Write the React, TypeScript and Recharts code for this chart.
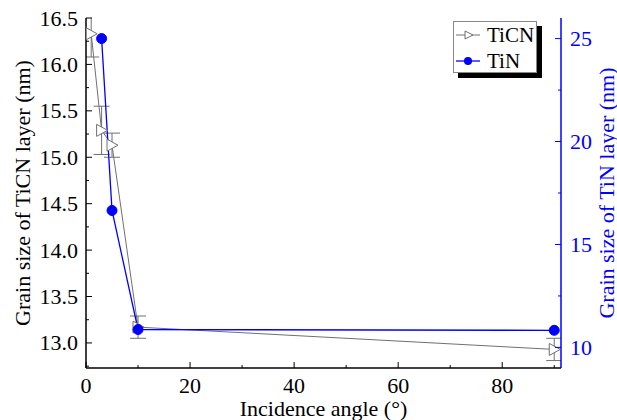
import * as Recharts from "recharts";
import { LineChart, Line, XAxis, YAxis, ErrorBar, Legend } from "recharts";

const angleTicn = [1, 3, 5, 10, 90];
const sizeTicn = [16.33, 15.29, 15.13, 13.17, 12.93];
const errTicn = [0.25, 0.26, 0.13, 0.12, 0.12];

const angleTin = [3, 5, 10, 90];
const sizeTin = [25.0, 16.65, 10.87, 10.83];

const xTicks = [0, 10, 20, 30, 40, 50, 60, 70, 80, 90];
const leftTicks = [12.75, 13, 13.25, 13.5, 13.75, 14, 14.25, 14.5, 14.75, 15, 15.25, 15.5, 15.75, 16, 16.25, 16.5];
const rightTicks = [10, 12.5, 15, 17.5, 20, 22.5, 25];

const ticnData = angleTicn.map((a, i) => ({ angle: a, size: sizeTicn[i], err: errTicn[i] }));
const tinData = angleTin.map((a, i) => ({ angle: a, size: sizeTin[i] }));

const FONT = "'Liberation Serif', 'Times New Roman', serif";
const TICK_FS = 22;
const LABEL_FS = 22;

function LeftTick({ x, y, payload }: any) {
  const v = payload.value;
  const major = Math.abs(v * 2 - Math.round(v * 2)) < 1e-6;
  return (
    <g>
      <line x1={x} x2={x + (major ? 6 : 3)} y1={y} y2={y} stroke="#000" />
      {major && (
        <text x={x - 8} y={y} textAnchor="end" dominantBaseline="central" fontSize={TICK_FS} fill="#000" fontFamily={FONT}>
          {v.toFixed(1)}
        </text>
      )}
    </g>
  );
}

function RightTick({ x, y, payload }: any) {
  const v = payload.value;
  const major = v % 5 === 0;
  return (
    <g>
      <line x1={x} x2={x - (major ? 6 : 3)} y1={y} y2={y} stroke="#0000ff" />
      {major && (
        <text x={x + 9} y={y} textAnchor="start" dominantBaseline="central" fontSize={TICK_FS} fill="#0000ff" fontFamily={FONT}>
          {v}
        </text>
      )}
    </g>
  );
}

function BottomTick({ x, y, payload }: any) {
  const v = payload.value;
  const major = v % 20 === 0;
  return (
    <g>
      <line x1={x} x2={x} y1={y} y2={y - (major ? 6 : 3)} stroke="#000" />
      {major && (
        <text x={x} y={y + 17} textAnchor="middle" dominantBaseline="central" fontSize={TICK_FS} fill="#000" fontFamily={FONT}>
          {v}
        </text>
      )}
    </g>
  );
}

function TriangleDot({ cx, cy }: any) {
  if (cx == null || cy == null) return null;
  return (
    <path
      d={`M${cx - 5},${cy - 6} L${cx + 6},${cy} L${cx - 5},${cy + 6} Z`}
      fill="#fff"
      stroke="#707070"
      strokeWidth={1}
    />
  );
}

function CircleDot({ cx, cy }: any) {
  if (cx == null || cy == null) return null;
  return <circle cx={cx} cy={cy} r={5} fill="#0000ff" stroke="#0000ff" />;
}

function VerticalTitle({ viewBox, value, dx, color }: any) {
  const cx = viewBox.x + dx;
  const cy = viewBox.y + viewBox.height / 2;
  return (
    <text
      x={cx}
      y={cy}
      transform={`rotate(-90, ${cx}, ${cy})`}
      textAnchor="middle"
      dominantBaseline="central"
      fontSize={LABEL_FS}
      fill={color}
      fontFamily={FONT}
    >
      {value}
    </text>
  );
}

function BottomTitle({ viewBox }: any) {
  return (
    <text
      x={viewBox.x + viewBox.width / 2}
      y={viewBox.y + 40}
      textAnchor="middle"
      dominantBaseline="central"
      fontSize={LABEL_FS}
      fill="#000"
      fontFamily={FONT}
    >
      Incidence angle (°)
    </text>
  );
}

// clip error bars to the plot area, like the original
function PlotClip() {
  const hook = (Recharts as any).usePlotArea;
  const area = hook ? hook() : null;
  if (!area) return null;
  return (
    <defs>
      <clipPath id="plot-area-clip">
        <rect x={area.x} y={area.y} width={area.width} height={area.height} />
      </clipPath>
    </defs>
  );
}

function LegendBox() {
  return (
    <div style={{ position: "relative", width: 84, height: 52, fontFamily: FONT, fontSize: 21, color: "#000" }}>
      <div style={{ position: "absolute", left: 5, top: 5, width: 84, height: 52, background: "#000" }} />
      <div
        style={{
          position: "absolute",
          left: 0,
          top: 0,
          width: 82,
          height: 50,
          background: "#fff",
          border: "1px solid #888",
        }}
      >
        <svg width={30} height={50} style={{ position: "absolute", left: 0, top: 0 }}>
          <line x1={2} x2={26} y1={13} y2={13} stroke="#707070" />
          <path d="M11,9 L19,13 L11,17 Z" fill="#fff" stroke="#707070" />
          <line x1={2} x2={26} y1={39} y2={39} stroke="#0000ff" strokeWidth={1.3} />
          <circle cx={14} cy={39} r={4} fill="#0000ff" />
        </svg>
        <div style={{ position: "absolute", left: 33, top: 0, lineHeight: "26px" }}>TiCN</div>
        <div style={{ position: "absolute", left: 33, top: 26, lineHeight: "26px" }}>TiN</div>
      </div>
    </div>
  );
}

export default function App() {
  return (
    <div style={{ position: "absolute", left: 0, top: 0, width: 617, height: 420, background: "#fff" }}>
      <style>{`.recharts-errorBars, .recharts-errorBar { clip-path: url(#plot-area-clip); }`}</style>
      <LineChart
        width={617}
        height={420}
        margin={{ top: 18, right: 0, left: 0, bottom: 0 }}
        style={{ fontFamily: FONT }}
      >
        <PlotClip />
        <XAxis
          xAxisId="top"
          orientation="top"
          type="number"
          dataKey="angle"
          domain={[0, 91.3]}
          height={0}
          tick={false}
          tickLine={false}
          axisLine={{ stroke: "#444", strokeWidth: 1.5 }}
        />
        <XAxis
          dataKey="angle"
          type="number"
          domain={[0, 91.3]}
          ticks={xTicks}
          interval={0}
          height={52}
          tickSize={0}
          tickMargin={0}
          tickLine={false}
          tick={<BottomTick />}
          axisLine={{ stroke: "#000", strokeWidth: 1.5 }}
          label={<BottomTitle />}
          allowDataOverflow
        />
        <YAxis
          yAxisId="left"
          type="number"
          domain={[12.73, 16.5]}
          ticks={leftTicks}
          interval={0}
          width={86}
          tickSize={0}
          tickMargin={0}
          tickLine={false}
          tick={<LeftTick />}
          axisLine={{ stroke: "#000", strokeWidth: 1.5 }}
          label={<VerticalTitle value="Grain size of TiCN layer (nm)" dx={22} color="#000" />}
          allowDataOverflow
        />
        <YAxis
          yAxisId="right"
          orientation="right"
          type="number"
          domain={[9, 26]}
          ticks={rightTicks}
          interval={0}
          width={56}
          tickSize={0}
          tickMargin={0}
          tickLine={false}
          tick={<RightTick />}
          axisLine={{ stroke: "#0000ff", strokeWidth: 1.5 }}
          label={<VerticalTitle value="Grain size of TiN layer (nm)" dx={45} color="#0000ff" />}
          allowDataOverflow
        />
        <Legend
          layout="horizontal"
          verticalAlign="middle"
          align="center"
          content={<LegendBox />}
          wrapperStyle={{ position: "absolute", left: 453, top: 21, width: 90, height: 58 }}
        />
        <Line
          yAxisId="left"
          data={ticnData}
          dataKey="size"
          name="TiCN"
          stroke="#707070"
          strokeWidth={1}
          dot={<TriangleDot />}
          activeDot={false}
          isAnimationActive={false}
        >
          <ErrorBar dataKey="err" width={8} stroke="#707070" strokeWidth={1} direction="y" />
        </Line>
        <Line
          yAxisId="right"
          data={tinData}
          dataKey="size"
          name="TiN"
          stroke="#0000ff"
          strokeWidth={1.3}
          dot={<CircleDot />}
          activeDot={false}
          isAnimationActive={false}
        />
      </LineChart>
    </div>
  );
}
